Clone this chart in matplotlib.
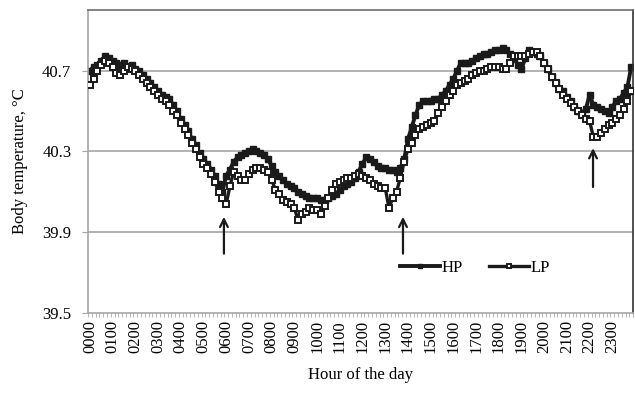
import matplotlib
matplotlib.use("Agg")
import matplotlib.pyplot as plt
import numpy as np

plt.rcParams['font.family'] = ['Liberation Serif', 'DejaVu Serif']

# 10-minute readings, 00:00 .. 23:50
hp = [40.70, 40.72, 40.73, 40.75, 40.77, 40.76,
      40.75, 40.74, 40.73, 40.74, 40.72, 40.73,
      40.71, 40.70, 40.68, 40.66, 40.64, 40.62,
      40.60, 40.58, 40.57, 40.56, 40.53, 40.50,
      40.46, 40.43, 40.40, 40.36, 40.33, 40.29,
      40.26, 40.24, 40.21, 40.18, 40.14, 40.10,
      40.18, 40.21, 40.25, 40.27, 40.28, 40.29,
      40.30, 40.31, 40.30, 40.29, 40.28, 40.26,
      40.23, 40.20, 40.18, 40.16, 40.14, 40.13,
      40.12, 40.10, 40.09, 40.08, 40.07, 40.07,
      40.07, 40.06, 40.06, 40.07, 40.08, 40.09,
      40.11, 40.13, 40.14, 40.15, 40.17, 40.20,
      40.24, 40.27, 40.26, 40.25, 40.23, 40.22,
      40.22, 40.21, 40.21, 40.20, 40.22, 40.26,
      40.36, 40.42, 40.48, 40.53, 40.55, 40.55,
      40.55, 40.56, 40.56, 40.58, 40.60, 40.63,
      40.66, 40.70, 40.74, 40.74, 40.74, 40.75,
      40.76, 40.77, 40.78, 40.78, 40.79, 40.80,
      40.80, 40.81, 40.80, 40.78, 40.76, 40.73,
      40.71, 40.76, 40.80, 40.79, 40.78, 40.77,
      40.74, 40.71, 40.67, 40.64, 40.61, 40.60,
      40.57, 40.55, 40.52, 40.50, 40.49, 40.51,
      40.58, 40.53, 40.52, 40.51, 40.50, 40.49,
      40.52, 40.55, 40.56, 40.59, 40.62, 40.72]

lp = [40.63, 40.66, 40.70, 40.73, 40.75, 40.74,
      40.72, 40.69, 40.68, 40.70, 40.72, 40.71,
      40.70, 40.68, 40.66, 40.64, 40.62, 40.60,
      40.58, 40.56, 40.55, 40.53, 40.50, 40.48,
      40.44, 40.41, 40.38, 40.34, 40.31, 40.27,
      40.24, 40.22, 40.19, 40.15, 40.10, 40.07,
      40.04, 40.13, 40.20, 40.18, 40.16, 40.16,
      40.19, 40.21, 40.22, 40.22, 40.21, 40.20,
      40.16, 40.11, 40.09, 40.06, 40.05, 40.04,
      40.02, 39.96, 39.99, 40.00, 40.02, 40.01,
      40.01, 39.99, 40.03, 40.07, 40.11, 40.14,
      40.15, 40.16, 40.17, 40.17, 40.18, 40.19,
      40.18, 40.17, 40.16, 40.14, 40.13, 40.12,
      40.12, 40.02, 40.07, 40.10, 40.17, 40.25,
      40.31, 40.34, 40.38, 40.41, 40.42, 40.43,
      40.44, 40.45, 40.49, 40.52, 40.55, 40.58,
      40.60, 40.63, 40.64, 40.65, 40.66, 40.68,
      40.69, 40.70, 40.70, 40.71, 40.72, 40.72,
      40.72, 40.71, 40.71, 40.74, 40.77, 40.77,
      40.77, 40.77, 40.78, 40.79, 40.79, 40.77,
      40.74, 40.71, 40.67, 40.64, 40.61, 40.58,
      40.56, 40.54, 40.52, 40.50, 40.48, 40.46,
      40.45, 40.37, 40.37, 40.39, 40.41, 40.43,
      40.44, 40.46, 40.48, 40.51, 40.55, 40.60]

hour_labels = ['%02d00' % h for h in range(24)]
y_ticks = [39.5, 39.9, 40.3, 40.7]

# arrows: (category index, tail value, head value)
arrows = [(35.4, 39.78, 39.99), (82.7, 39.78, 39.99), (132.9, 40.11, 40.33)]

x = np.arange(len(hp))

fig = plt.figure(figsize=(6.35, 4.01), dpi=100)
ax = fig.add_axes([0.1386, 0.2195, 0.8585, 0.7555])

for yv in y_ticks[1:]:
    ax.axhline(yv, color='#a6a6a6', lw=1.2, zorder=0)

ax.plot(x, hp, color='#1a1a1a', lw=2.8, marker='s', ms=4.6,
        mfc='#1a1a1a', mec='#1a1a1a', label='HP', zorder=2)
ax.plot(x, lp, color='#1a1a1a', lw=2.4, marker='s', ms=4.6,
        mfc='white', mec='#1a1a1a', mew=1.4, label='LP', zorder=3)

for xi, y0, y1 in arrows:
    ax.annotate('', xy=(xi, y1), xytext=(xi, y0),
                arrowprops=dict(arrowstyle='->', color='#1a1a1a', lw=1.6,
                                mutation_scale=14))

ax.set_xlim(-0.5, len(hp) - 0.5)
ax.set_ylim(39.5, 41.0)
ax.set_yticks(y_ticks)
ax.set_yticklabels(['%.1f' % v for v in y_ticks], fontsize=12)
ax.set_xticks(np.arange(0, 144, 6))
ax.set_xticklabels(hour_labels, rotation=90, fontsize=12)
ax.set_xticks(np.arange(-0.5, 144, 1), minor=True)
ax.tick_params(axis='x', which='major', length=0, pad=5)
ax.tick_params(axis='x', which='minor', length=3, color='#a6a6a6', width=0.6)
ax.tick_params(axis='y', length=4, color='#a6a6a6', pad=8)

ax.spines['left'].set_color('#a6a6a6')
ax.spines['bottom'].set_color('#a6a6a6')
ax.spines['top'].set_color('#6e6e6e')
ax.spines['right'].set_color('#333333')
for s in ax.spines.values():
    s.set_linewidth(1.2)

ax.set_xlabel('Hour of the day', fontsize=12, labelpad=10)
ax.set_ylabel('Body temperature, \u00b0C', fontsize=12, labelpad=10)

ax.legend(loc='center', bbox_to_anchor=(0.71, 0.15), ncol=2, frameon=False,
          fontsize=12, handlelength=2.4, handletextpad=0.1, columnspacing=1.6,
          markerscale=0.6)

fig.savefig('out.png', dpi=100)
